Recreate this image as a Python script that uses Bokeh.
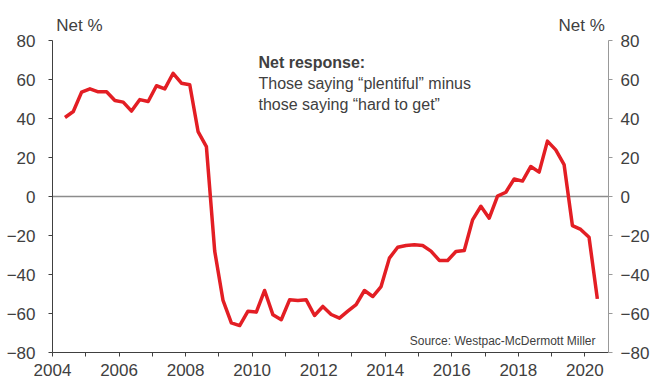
from bokeh.plotting import figure
from bokeh.models import LinearAxis, Range1d, FixedTicker, Label, Span, ColumnDataSource
from bokeh.embed import file_html
from bokeh.resources import INLINE

# Quarterly net response (%), Westpac-McDermott Miller
start_year = 2004.375
net_response = [40.5, 43.6, 53.5, 55.2, 53.7, 53.7, 49.2, 48.4, 43.8, 49.7, 48.7, 56.8,
                55.2, 63.2, 58.1, 57.3, 33.3, 25.6, -28.0, -53.3, -64.8, -66.2, -58.8,
                -59.3, -48.2, -60.7, -63.2, -53.0, -53.3, -53.0, -61.0, -56.4, -60.5,
                -62.4, -58.8, -55.4, -48.2, -51.3, -46.2, -31.6, -26.0, -25.1, -24.8,
                -25.1, -28.0, -32.8, -32.8, -28.2, -27.7, -12.0, -5.0, -11.1, 0.2, 2.2,
                9.0, 7.9, 15.4, 12.5, 28.4, 23.9, 16.4, -14.9, -16.9, -20.9, -52.5]
dates = [start_year + 0.25 * i for i in range(len(net_response))]

year_ticks = list(range(2004, 2021))
y_ticks = [-80, -60, -40, -20, 0, 20, 40, 60, 80]
unit_title = "Net %"

FONT = "Liberation Sans"
TXT = "#404040"

src = ColumnDataSource(data=dict(x=dates, y=net_response))

p = figure(width=652, height=379, output_backend="svg", toolbar_location=None,
           x_range=Range1d(2004, 2020.71), y_range=Range1d(-80, 80),
           min_border_left=52, min_border_right=41, min_border_top=40, min_border_bottom=27)
p.outline_line_color = None
p.xgrid.visible = False
p.ygrid.visible = False
p.background_fill_color = "white"
p.border_fill_color = "white"
# pixel-like range for placing the unit titles above the frame
p.extra_x_ranges = {"px": Range1d(52, 611)}

zero = Span(location=0, dimension="width", line_color="#8c8c8c", line_width=1.5, level="underlay")
p.add_layout(zero)

p.line("x", "y", source=src, line_color="#E31E24", line_width=3.5, line_join="round")

# bottom axis
xa = p.xaxis[0]
xa.ticker = FixedTicker(ticks=year_ticks)
xa.major_label_overrides = {y: ("" if y % 2 else str(y)) for y in year_ticks}
xa.major_label_text_font = FONT
xa.major_label_text_font_size = "17px"
xa.major_label_text_color = TXT
xa.axis_line_color = "#404040"
xa.major_tick_line_color = "#404040"
xa.major_tick_out = 4
xa.major_tick_in = 0
xa.minor_tick_line_color = None
xa.major_label_standoff = 7

# left axis
ya = p.yaxis[0]
ya.ticker = FixedTicker(ticks=y_ticks)
ya.major_label_text_font = FONT
ya.major_label_text_font_size = "17px"
ya.major_label_text_color = TXT
ya.axis_line_color = "#404040"
ya.major_tick_line_color = "#404040"
ya.major_tick_out = 4
ya.major_tick_in = 0
ya.minor_tick_line_color = None
ya.major_label_standoff = 13

# right axis
ra = LinearAxis(ticker=FixedTicker(ticks=y_ticks))
ra.major_label_text_font = FONT
ra.major_label_text_font_size = "17px"
ra.major_label_text_color = TXT
ra.axis_line_color = "#999999"
ra.major_tick_line_color = "#999999"
ra.major_tick_out = 4
ra.major_tick_in = 0
ra.minor_tick_line_color = None
ra.major_label_standoff = 8
p.add_layout(ra, "right")

# top "axis" carrying the two unit titles
ta = LinearAxis(x_range_name="px", ticker=FixedTicker(ticks=[79, 584]))
ta.major_label_overrides = {79: unit_title, 584: unit_title}
ta.major_label_text_font = FONT
ta.major_label_text_font_size = "17px"
ta.major_label_text_color = TXT
ta.axis_line_color = None
ta.major_tick_line_color = None
ta.minor_tick_line_color = None
ta.major_tick_out = 0
ta.major_tick_in = 0
ta.major_label_standoff = 6
p.add_layout(ta, "above")

def lab(x, y, text, align="left", size="16px", style="normal"):
    p.add_layout(Label(x=x, y=y, text=text, text_align=align, text_baseline="middle",
                       text_font=FONT, text_font_size=size, text_color=TXT,
                       text_font_style=style))

lab(2010.19, 68.7, "Net response:", style="bold")
lab(2010.19, 58.0, "Those saying \u201cplentiful\u201d minus")
lab(2010.19, 47.0, "those saying \u201chard to get\u201d")
lab(2020.32, -74.1, "Source: Westpac-McDermott Miller", align="right", size="12px")

open("out.html", "w").write(file_html(p, INLINE))
